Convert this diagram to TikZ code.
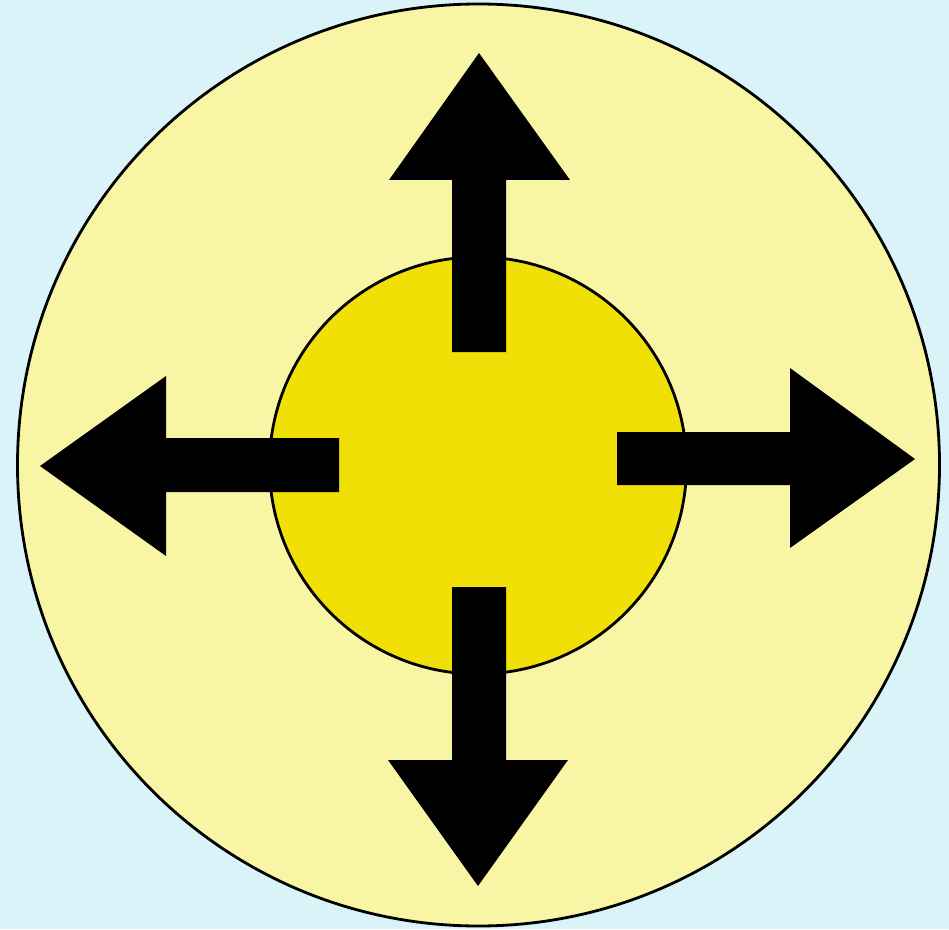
\documentclass[tikz,border=0pt]{standalone}
\usepackage{tikz}
\definecolor{skybg}{HTML}{DAF3F8}
\definecolor{paleyellow}{HTML}{F8F6A4}
\definecolor{coreyellow}{HTML}{F1E006}
\begin{document}
\begin{tikzpicture}[x=0.02cm, y=-0.02cm,
    disc/.style={draw=black, line width=1.6pt},
    bigarrow/.style={fill=black, draw=none}]

    % background
    \fill[skybg] (0,0) rectangle (949,929);
    \useasboundingbox (0,0) rectangle (949,929);

    % circles
    \draw[disc, fill=paleyellow] (478.5,465) circle [radius=461];
    \draw[disc, fill=coreyellow] (478,465.5) circle [radius=208.5];

    % up
    \fill[bigarrow] (452,352) -- (452,180) -- (389,180) -- (479,53) -- (570,180) -- (506,180) -- (506,352) -- cycle;
    % right
    \fill[bigarrow] (617,432) -- (790,432) -- (790,368) -- (915,459) -- (790,548) -- (790,485) -- (617,485) -- cycle;
    % left
    \fill[bigarrow] (339,438) -- (166,438) -- (166,376) -- (40,466) -- (166,556) -- (166,492) -- (339,492) -- cycle;
    % down
    \fill[bigarrow] (452,587) -- (452,760) -- (388,760) -- (478,886) -- (568,760) -- (506,760) -- (506,587) -- cycle;
\end{tikzpicture}
\end{document}
